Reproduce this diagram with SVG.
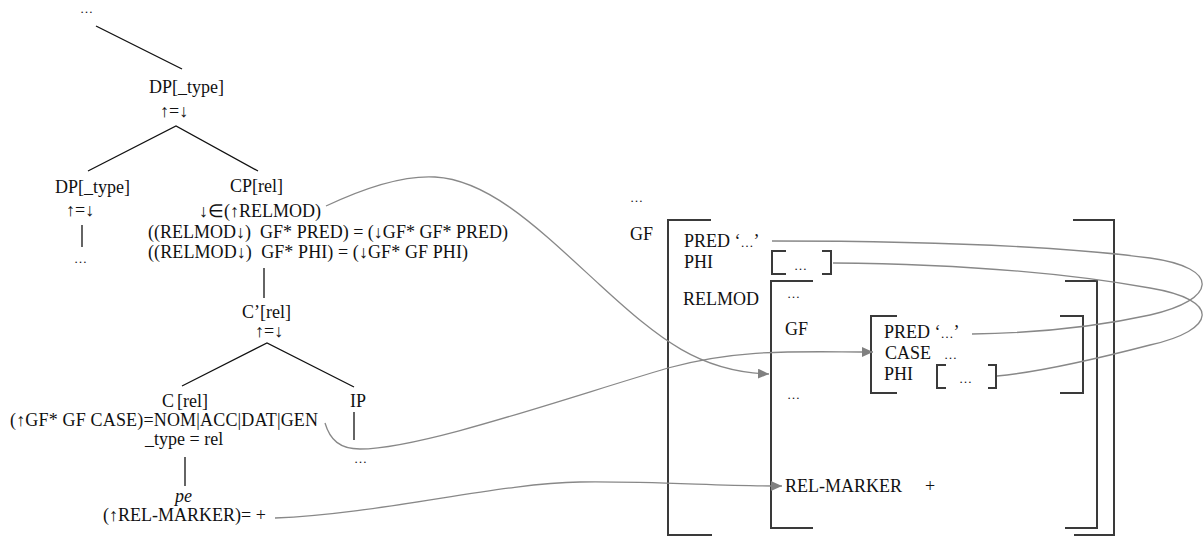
<svg xmlns="http://www.w3.org/2000/svg" width="1203" height="536" viewBox="0 0 1203 536">
<style>
text{font-family:"Liberation Serif","Times New Roman",serif;font-size:18px;fill:#111;white-space:pre}
.it{font-style:italic}
.sm{font-size:13px}
.tl{stroke:#111;stroke-width:1.3;fill:none}
.br{stroke:#3a3a3a;stroke-width:2;fill:none}
.cn{stroke:#888;stroke-width:1.3;fill:none}
</style>
<defs>
<marker id="ah" markerUnits="userSpaceOnUse" markerWidth="12" markerHeight="10" refX="11" refY="5" orient="auto">
<path d="M0,0 L11,5 L0,10 Z" fill="#808080"/>
</marker>
</defs>
<rect width="1203" height="536" fill="#fff"/>
<g id="tree-lines">
<path class="tl" d="M96,26 L182,69"/>
<path class="tl" d="M88,171 L176,126 L258,171"/>
<path class="tl" d="M82,225 L82,247"/>
<path class="tl" d="M264,268 L264,298"/>
<path class="tl" d="M182,386 L267,343 L354,387"/>
<path class="tl" d="M185,457 L185,486"/>
<path class="tl" d="M354,412 L354,440"/>
</g>
<g id="n-top"><text class="sm" x="80" y="13">…</text></g>
<g id="n-dp1"><text x="149" y="93">DP[_type]</text><text x="160" y="117">↑=↓</text></g>
<g id="n-dp2"><text x="55" y="193">DP[_type]</text><text x="66" y="216">↑=↓</text><text class="sm" x="74" y="263">…</text></g>
<g id="n-cp"><text x="230" y="192">CP[rel]</text><text x="199" y="217">↓∈(↑RELMOD)</text>
<text xml:space="preserve" x="148" y="238" textLength="360" lengthAdjust="spacing">((RELMOD↓)  GF* PRED) = (↓GF* GF* PRED)</text>
<text xml:space="preserve" x="148" y="258" textLength="320" lengthAdjust="spacing">((RELMOD↓)  GF* PHI) = (↓GF* GF PHI)</text></g>
<g id="n-cbar"><text x="242" y="318">C’[rel]</text><text x="255" y="337">↑=↓</text></g>
<g id="n-c"><text x="162" y="407">C<tspan dx="3">[rel]</tspan></text>
<text x="10" y="426" textLength="308" lengthAdjust="spacing">(↑GF* GF CASE)=NOM|ACC|DAT|GEN</text>
<text x="145" y="445">_type = rel</text></g>
<g id="n-pe"><text class="it" x="175" y="502">pe</text><text x="103" y="521">(↑REL-MARKER)= +</text></g>
<g id="n-ip"><text x="350" y="407">IP</text><text class="sm" x="354" y="463">…</text></g>
<g id="avm-outer">
<text class="sm" x="630" y="202">…</text>
<text x="630" y="240">GF</text>
<path class="br" d="M711,220 L668,220 L668,535 L712,535"/>
<path class="br" d="M1073,220 L1114,220 L1114,535 L1074,535"/>
<text x="684" y="247">PRED ‘<tspan class="sm">…</tspan>’</text>
<text x="684" y="268">PHI</text>
<path class="br" d="M786,251 L772,251 L772,274 L786,274"/>
<path class="br" d="M822,251 L831,251 L831,274 L822,274"/>
<text class="sm" x="794" y="270">…</text>
<text x="683" y="305">RELMOD</text>
</g>
<g id="avm-relmod">
<path class="br" d="M813,281 L771,281 L771,528 L813,528"/>
<path class="br" d="M1065,281 L1097,281 L1097,528 L1065,528"/>
<text class="sm" x="787" y="298">…</text>
<text x="785" y="335">GF</text>
<text class="sm" x="787" y="399">…</text>
<text x="785" y="492">REL-MARKER</text>
<text x="925" y="492">+</text>
</g>
<g id="avm-gf">
<path class="br" d="M897,316 L871,316 L871,393 L897,393"/>
<path class="br" d="M1060,316 L1083,316 L1083,393 L1060,393"/>
<text x="884" y="338">PRED ‘<tspan class="sm">…</tspan>’</text>
<text x="885" y="359">CASE</text>
<text class="sm" x="944" y="359">…</text>
<text x="884" y="380">PHI</text>
<path class="br" d="M946,365 L937,365 L937,388 L946,388"/>
<path class="br" d="M988,365 L996,365 L996,388 L988,388"/>
<text class="sm" x="959" y="383">…</text>
</g>
<g id="connectors">
<path class="cn" marker-end="url(#ah)" d="M326,206 C360,190 400,175 435,177 C490,180 540,230 600,285 C660,340 700,372 769,374"/>
<path class="cn" marker-end="url(#ah)" d="M325,423 C330,440 340,449 360,449 C420,449 560,400 668,368 C740,348 800,352 873,352"/>
<path class="cn" marker-end="url(#ah)" d="M275,518 C380,514 500,483 580,482 C650,481 720,486 782,486"/>
<path class="cn" d="M772,241 C900,241 1050,245 1150,258 C1222,268 1217,300 1150,315 C1100,326 1040,333 972,334"/>
<path class="cn" d="M833,263 C950,264 1060,272 1150,288 C1222,300 1217,330 1150,345 C1100,358 1040,372 997,376"/>
</g>
</svg>
